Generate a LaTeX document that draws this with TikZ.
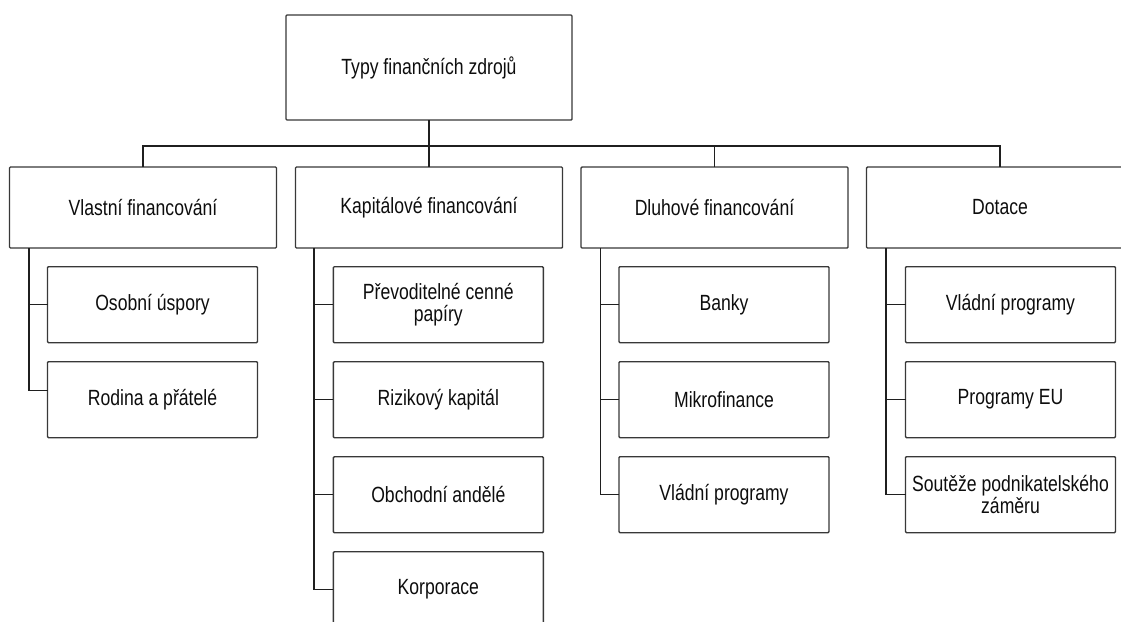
\documentclass[tikz,border=0pt]{standalone}
\usepackage{fontspec}
\setmainfont{Liberation Sans}[FakeStretch=0.8]
\begin{document}
\begin{tikzpicture}[x=1pt,y=-1pt,
  box/.style={draw=black!78, line width=1.4pt, rounded corners=1pt, inner sep=0pt, outer sep=0pt,
    align=center, text=black!95, font=\fontsize{22}{22}\selectfont},
  rootbox/.style={box, minimum width=286pt, minimum height=105pt},
  catbox/.style={box, minimum width=267pt, minimum height=81pt},
  itembox/.style={box, minimum width=210pt, minimum height=76pt},
  link/.style={draw=black!88, line width=1.4pt}]
\useasboundingbox (0,0) rectangle (1121,621);
\clip (0,0) rectangle (1121,621);

% root
\node[rootbox] (root) at (429,67.5) {Typy finančních zdrojů};

% categories
\node[catbox] (b1) at (143,207.5) {Vlastní financování};
\node[catbox] (b2) at (429,207.5) {Kapitálové financování};
\node[catbox] (b3) at (714.5,207.5) {Dluhové financování};
\node[catbox] (b4) at (1000,207.5) {Dotace};

% items
\node[itembox] (c11) at (152.5,304.7) {Osobní úspory};
\node[itembox] (c12) at (152.5,399.7) {Rodina a přátelé};

\node[itembox] (c21) at (438.3,304.7) {Převoditelné cenné\\papíry};
\node[itembox] (c22) at (438.3,399.7) {Rizikový kapitál};
\node[itembox] (c23) at (438.3,494.7) {Obchodní andělé};
\node[itembox] (c24) at (438.3,589.7) {Korporace};

\node[itembox] (c31) at (724,304.7) {Banky};
\node[itembox] (c32) at (724,399.7) {Mikrofinance};
\node[itembox] (c33) at (724,494.7) {Vládní programy};

\node[itembox] (c41) at (1010.5,304.7) {Vládní programy};
\node[itembox] (c42) at (1010.5,399.7) {Programy EU};
\node[itembox] (c43) at (1010.5,494.7) {Soutěže podnikatelského\\záměru};

% bus
\draw[link] (root.south) -- (b2.north);
\draw[link] (b1.north) -- ++(0,-21) -| (b4.north);
\draw[link] (b3.north) -- ++(0,-21);

% spines
\draw[link] ([xshift=19.5pt]b1.south west) |- (c11.west);
\draw[link] ([xshift=19.5pt]b1.south west) |- ([yshift=9pt]c12.west);

\draw[link] ([xshift=18.5pt]b2.south west) |- (c21.west);
\draw[link] ([xshift=18.5pt]b2.south west) |- (c22.west);
\draw[link] ([xshift=18.5pt]b2.south west) |- (c23.west);
\draw[link] ([xshift=18.5pt]b2.south west) |- (c24.west);

\draw[link] ([xshift=19.5pt]b3.south west) |- (c31.west);
\draw[link] ([xshift=19.5pt]b3.south west) |- (c32.west);
\draw[link] ([xshift=19.5pt]b3.south west) |- (c33.west);

\draw[link] ([xshift=19.5pt]b4.south west) |- (c41.west);
\draw[link] ([xshift=19.5pt]b4.south west) |- (c42.west);
\draw[link] ([xshift=19.5pt]b4.south west) |- (c43.west);
\end{tikzpicture}
\end{document}
